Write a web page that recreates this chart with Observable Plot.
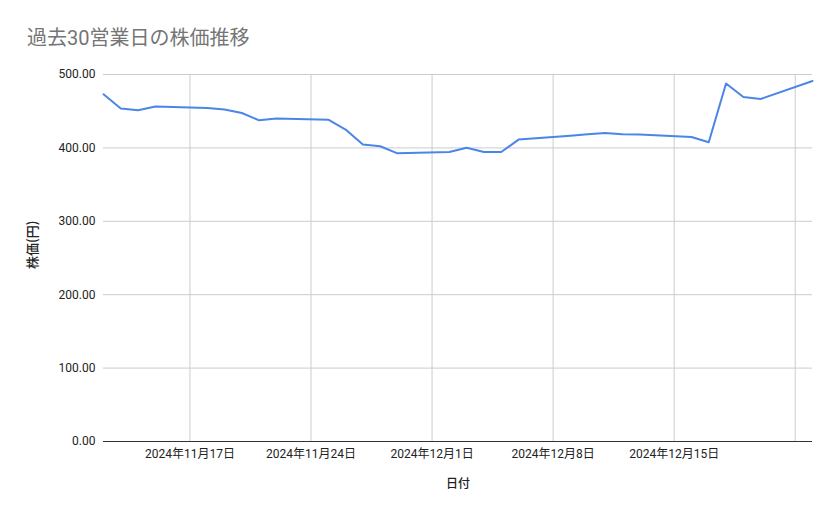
<!DOCTYPE html>
<html>
<head>
<meta charset="utf-8">
<script src="https://cdn.jsdelivr.net/npm/d3@7"></script>
<script src="https://cdn.jsdelivr.net/npm/@observablehq/plot@0.6"></script>
<style>
  html, body { margin: 0; padding: 0; background: #fff; }
  #wrap { position: relative; width: 839px; height: 519px; }
  #title { position: absolute; left: 27px; top: 27px; font-family: Roboto, "Noto Sans CJK JP", sans-serif; font-size: 20px; line-height: 22px; color: #757575; white-space: nowrap; }
</style>
</head>
<body>
<div id="wrap"><div id="title">過去30営業日の株価推移</div></div>
<script>
const dates = [
  "2024-11-12","2024-11-13","2024-11-14","2024-11-15",
  "2024-11-18","2024-11-19","2024-11-20","2024-11-21","2024-11-22",
  "2024-11-25","2024-11-26","2024-11-27","2024-11-28","2024-11-29",
  "2024-12-02","2024-12-03","2024-12-04","2024-12-05","2024-12-06",
  "2024-12-09","2024-12-10","2024-12-11","2024-12-12","2024-12-13",
  "2024-12-16","2024-12-17","2024-12-18","2024-12-19","2024-12-20",
  "2024-12-23"
];
const prices = [
  473, 453.6, 451.3, 456.3,
  454.4, 452.2, 447.6, 437.6, 439.9,
  438.4, 425, 404.5, 402.2, 392.6,
  394.4, 400.1, 394.4, 394.4, 411.3,
  416.7, 418.5, 420.3, 418.5, 418.1,
  414.9, 407.6, 487.7, 469.4, 466.7,
  491.2
];
const xTickDates = ["2024-11-17","2024-11-24","2024-12-01","2024-12-08","2024-12-15","2024-12-22"];
const xTickLabels = ["2024年11月17日","2024年11月24日","2024年12月1日","2024年12月8日","2024年12月15日",""];
const yTicks = [0, 100, 200, 300, 400, 500];
const yLabel = "株価(円)";
const xLabel = "日付";

const parse = s => new Date(s + "T00:00:00Z");
const data = dates.map((d, i) => ({date: parse(d), price: prices[i]}));
const xTicks = xTickDates.map(parse);
const labelFor = d => {
  const i = xTicks.findIndex(t => +t === +d);
  return i >= 0 ? xTickLabels[i] : "";
};

const chart = Plot.plot({
  width: 839,
  height: 519,
  marginLeft: 103,
  marginRight: 27,
  marginTop: 74,
  marginBottom: 78,
  style: {fontFamily: "Roboto, 'Noto Sans CJK JP', sans-serif", fontSize: "12px", color: "#222", background: "transparent"},
  x: {type: "utc", domain: [data[0].date, data[data.length - 1].date]},
  y: {domain: [0, 500]},
  marks: [
    Plot.gridX(xTicks, {stroke: "#cccccc", strokeOpacity: 1}),
    Plot.gridY(yTicks, {stroke: "#cccccc", strokeOpacity: 1}),
    Plot.ruleY([0], {stroke: "#333333", strokeWidth: 1}),
    Plot.lineY(data, {x: "date", y: "price", stroke: "#4a86e8", strokeWidth: 2, curve: "linear"}),
    Plot.axisX(xTicks, {tickSize: 0, tickPadding: 8, tickFormat: labelFor, label: null, fill: "#222"}),
    Plot.axisY(yTicks, {tickSize: 0, tickPadding: 8, tickFormat: d3.format(".2f"), label: null, fill: "#222"}),
    Plot.text([yLabel], {frameAnchor: "left", dx: -71, dy: 11, rotate: -90, fill: "#222", fontSize: 13, fontWeight: 500, fontFamily: "'Noto Sans CJK JP', sans-serif", letterSpacing: "1.5px"}),
    Plot.text([xLabel], {frameAnchor: "bottom", dy: 46, fill: "#222", fontSize: 12, fontWeight: 500})
  ]
});
chart.style.position = "absolute";
chart.style.left = "0";
chart.style.top = "0";
document.getElementById("wrap").appendChild(chart);
</script>
</body>
</html>
